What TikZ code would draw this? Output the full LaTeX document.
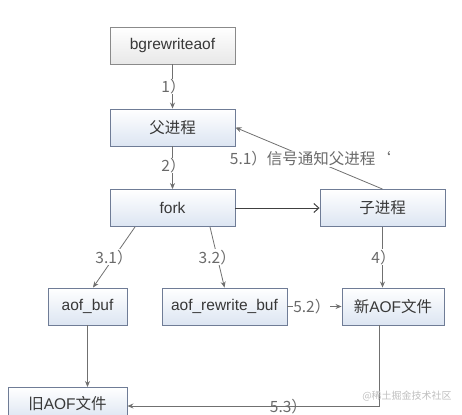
\documentclass[tikz,border=0pt]{standalone}
\usepackage{fontspec}
\setmainfont{Liberation Sans}
\newfontfamily\cjk{Noto Sans CJK SC}
\usetikzlibrary{arrows.meta}
\definecolor{boxline}{HTML}{6F7C96}
\definecolor{boxfill}{HTML}{DCE5F2}
\definecolor{grayline}{HTML}{8A8A8A}
\definecolor{arrowc}{HTML}{707070}
\definecolor{labelc}{HTML}{6A6A6A}
\tikzset{
  bluebox/.style={draw=boxline, line width=0.9pt, top color=white, bottom color=boxfill,
    minimum width=125pt, minimum height=37pt, inner sep=0pt, font=\fontsize{15.5}{18}\selectfont, text=black!78},
  graybox/.style={bluebox, draw=grayline, bottom color=black!9},
  conn/.style={draw=arrowc, line width=0.8pt, -{Stealth[length=6pt,width=5pt]}},
  lbl/.style={font=\cjk\fontsize{15.5}{17}\selectfont, text=labelc, inner sep=0.5pt, fill=white},
}
\begin{document}
\begin{tikzpicture}[x=1pt,y=-1pt]
\useasboundingbox (0,0) rectangle (462,414);
\clip (0,0) rectangle (462,414);
\node[graybox] (bg) at (172.5,45.5) {bgrewriteaof};
\node[bluebox] (parent) at (172.5,127.5) {\cjk 父进程};
\node[bluebox] (fork) at (172.5,208) {fork};
\node[bluebox] (child) at (382.5,208) {\cjk 子进程};
\node[bluebox, minimum width=79pt] (aofbuf) at (87.5,306.5) {aof\_buf};
\node[bluebox] (rwbuf) at (224.5,306.5) {aof\_rewrite\_buf};
\node[bluebox, minimum width=102pt] (newaof) at (393,306.5) {\cjk 新{\rmfamily AOF}文件};
\node[bluebox, minimum width=119pt, minimum height=32pt, anchor=north] (oldaof) at (67.5,387) {\cjk 旧{\rmfamily AOF}文件};

\draw[conn] (bg.south) -- node[lbl, pos=0.5, xshift=1pt] {1）} (parent.north);
\draw[conn] (parent.south) -- node[lbl, pos=0.45, xshift=1pt] {2）} (fork.north);
\draw[draw=black!75, line width=1pt, -{Straight Barb[length=5pt,width=9pt]}] (fork.east) -- (child.west);
\draw[conn] (child.north) -- node[lbl, pos=0.49] (l51) {5.1）信号通知父进程‘} (parent.east);
\draw[conn] ([xshift=-37.5pt]fork.south) -- node[lbl, pos=0.5] {3.1）} ([xshift=5.5pt]aofbuf.north);
\draw[conn] ([xshift=37.5pt]fork.south) -- node[lbl, pos=0.5] {3.2）} (rwbuf.north);
\draw[conn] (child.south) -- node[lbl, pos=0.5, xshift=1pt] {4）} ([xshift=-10.5pt]newaof.north);
\draw[conn] (rwbuf.east) -- node[lbl, pos=0.45, inner sep=0pt] {5.2）} (newaof.west);
\draw[conn] (aofbuf.south) -- (aofbuf.south |- oldaof.north);
\coordinate (corner) at (379,406);
\draw[conn] ([xshift=-14pt]newaof.south) -- (corner) -- node[lbl, pos=0.36, fill=none, yshift=-1pt] {5.3）} (oldaof.east |- corner);
\node[font=\cjk\fontsize{10}{12}\selectfont, text=black!25] (wm) at (407,396) {@稀土掘金技术社区};
\end{tikzpicture}
\end{document}
